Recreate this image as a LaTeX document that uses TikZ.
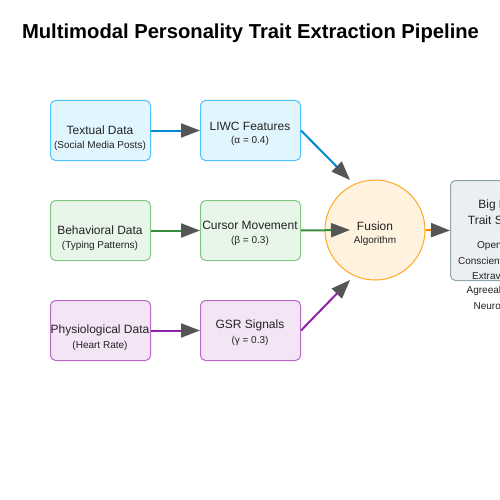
\documentclass[tikz,border=0pt]{standalone}
\usepackage{fontspec}
\setmainfont{Liberation Sans}
\usetikzlibrary{arrows.meta}
\definecolor{bluefill}{HTML}{E1F5FE}
\definecolor{bluedraw}{HTML}{4FC3F7}
\definecolor{blueline}{HTML}{0288D1}
\definecolor{greenfill}{HTML}{E8F5E9}
\definecolor{greendraw}{HTML}{81C784}
\definecolor{greenline}{HTML}{388E3C}
\definecolor{purplefill}{HTML}{F3E5F5}
\definecolor{purpledraw}{HTML}{BA68C8}
\definecolor{purpleline}{HTML}{8E24AA}
\definecolor{orangefill}{HTML}{FFF3E0}
\definecolor{orangedraw}{HTML}{FFA726}
\definecolor{orangeline}{HTML}{FB8C00}
\definecolor{grayfill}{HTML}{ECEFF1}
\definecolor{graydraw}{HTML}{90A4AE}
\definecolor{arrowgray}{HTML}{555555}
\definecolor{textcol}{HTML}{222222}
\tikzset{
  box/.style={draw, line width=1pt, rounded corners=5pt, minimum width=100pt, minimum height=60pt, inner sep=0pt, anchor=north west},
  maintext/.style={font=\fontsize{12}{14}\selectfont, text=textcol, inner sep=0pt},
  subtext/.style={font=\fontsize{10}{12}\selectfont, text=textcol, inner sep=0pt},
  conn/.style={line width=2pt, -{Triangle[length=19pt,width=14pt,color=arrowgray,fill=arrowgray]}},
}
\begin{document}
\begin{tikzpicture}[x=1pt,y=-1pt]
\useasboundingbox (0,0) rectangle (500,500);
\fill[white] (0,0) rectangle (500,500);
\node[font=\bfseries\fontsize{20.2}{24}\selectfont, inner sep=0pt] (title) at (250.5,33) {Multimodal Personality Trait Extraction Pipeline};

% boxes
\node[box, draw=bluedraw, fill=bluefill] (text) at (50,100) {};
\node[box, draw=bluedraw, fill=bluefill] (liwc) at (200,100) {};
\node[box, draw=greendraw, fill=greenfill] (behav) at (50,200) {};
\node[box, draw=greendraw, fill=greenfill] (cursor) at (200,200) {};
\node[box, draw=purpledraw, fill=purplefill] (phys) at (50,300) {};
\node[box, draw=purpledraw, fill=purplefill] (gsr) at (200,300) {};
\node[circle, draw=orangedraw, fill=orangefill, line width=1pt, minimum size=100pt, inner sep=0pt] (fusion) at (375,230) {};
\node[box, draw=graydraw, fill=grayfill, minimum height=100pt] (big) at (450,180) {};

% labels
\node[maintext] (textA) at (100,130) {Textual Data};
\node[subtext] (textB) at (100,146) {(Social Media Posts)};
\node[maintext] (liwcA) at (250,126) {LIWC Features};
\node[subtext] (liwcB) at (250,141) {(α = 0.4)};
\node[maintext] (behavA) at (100,230) {Behavioral Data};
\node[subtext] (behavB) at (100,246) {(Typing Patterns)};
\node[maintext] (cursorA) at (250,225) {Cursor Movement};
\node[subtext] (cursorB) at (250,241) {(β = 0.3)};
\node[maintext] (physA) at (100,330) {Physiological Data};
\node[subtext] (physB) at (100,346) {(Heart Rate)};
\node[maintext] (gsrA) at (250,325) {GSR Signals};
\node[subtext] (gsrB) at (250,341) {(γ = 0.3)};
\node[maintext] (fusionA) at (375,226) {Fusion};
\node[subtext] (fusionB) at (375,241) {Algorithm};
\node[maintext] (bigA) at (500,205) {Big Five};
\node[maintext] (bigB) at (500,220) {Trait Scores};
\node[subtext] (t1) at (500,246) {Openness};
\node[subtext] (t2) at (500,261) {Conscientiousness};
\node[subtext] (t3) at (500,276) {Extraversion};
\node[subtext] (t4) at (500,291) {Agreeableness};
\node[subtext] (t5) at (500,306) {Neuroticism};

% connectors
\coordinate (liwcend) at (350,180);
\coordinate (cursorend) at (350,230);
\coordinate (gsrend) at (350,280);
\draw[conn, blueline] (text.east) -- (liwc.west);
\draw[conn, blueline] (liwc.east) -- (liwcend);
\draw[conn, greenline] (behav.east) -- (cursor.west);
\draw[conn, greenline] (cursor.east) -- (cursorend);
\draw[conn, purpleline] (phys.east) -- (gsr.west);
\draw[conn, purpleline] (gsr.east) -- (gsrend);
\draw[conn, orangeline] (fusion.east) -- (big.west);
\end{tikzpicture}
\end{document}
